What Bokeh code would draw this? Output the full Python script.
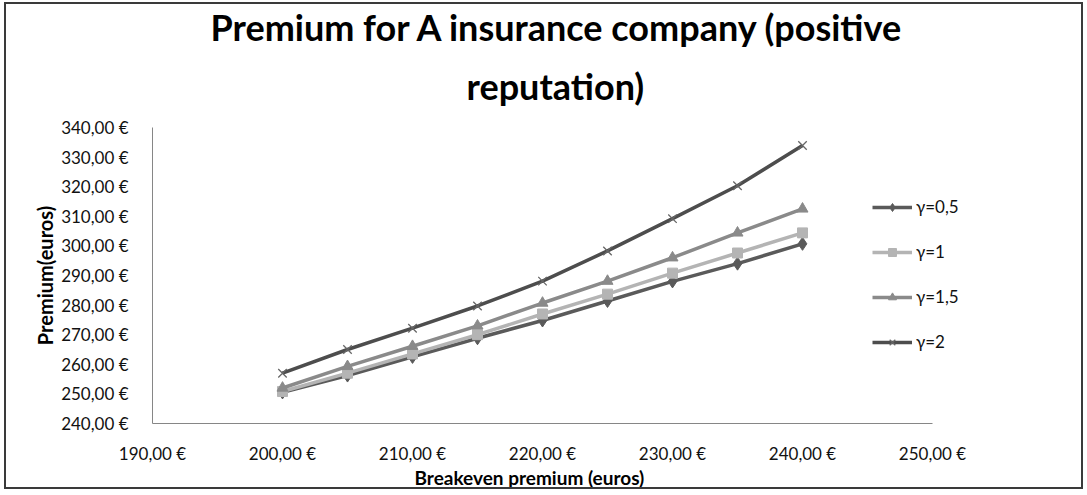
from bokeh.plotting import figure
from bokeh.models import Legend, LegendItem, Title, Range1d, FixedTicker
from bokeh.embed import file_html
from bokeh.resources import INLINE

# ---------------- data ----------------
breakeven = [200, 205, 210, 215, 220, 225, 230, 235, 240]
gamma_05 = [250.5, 256.2, 262.5, 268.8, 274.8, 281.4, 288.0, 294.0, 300.7]
gamma_1 = [250.8, 257.0, 263.5, 270.0, 277.0, 283.7, 290.8, 297.6, 304.4]
gamma_15 = [252.0, 259.3, 266.1, 273.0, 280.7, 288.1, 296.0, 304.4, 312.5]
gamma_2 = [257.0, 265.0, 272.2, 279.7, 288.1, 298.3, 309.2, 320.3, 333.9]

series_names = ["γ=0,5", "γ=1", "γ=1,5", "γ=2"]
x_ticks = [190, 200, 210, 220, 230, 240, 250]
x_tick_labels = ["190,00 €", "200,00 €", "210,00 €", "220,00 €", "230,00 €", "240,00 €", "250,00 €"]
y_ticks = [240, 250, 260, 270, 280, 290, 300, 310, 320, 330, 340]
y_tick_labels = ["240,00 €", "250,00 €", "260,00 €", "270,00 €", "280,00 €", "290,00 €",
                 "300,00 €", "310,00 €", "320,00 €", "330,00 €", "340,00 €"]

title_line1 = "Premium for A insurance company (positive"
title_line2 = "reputation)"
x_title = "Breakeven premium (euros)"
y_title = "Premium(euros)"

FONT = "Lato"

p = figure(width=1079, height=487, output_backend="svg", toolbar_location=None,
           x_range=Range1d(190, 256), y_range=Range1d(240, 340),
           min_border_left=146, min_border_right=75, min_border_top=123, min_border_bottom=68)
p.styles = {"border": "2px solid #3a3a3a", "margin": "2px 0 0 4px"}
p.outline_line_color = None
p.xgrid.visible = False
p.ygrid.visible = False
p.title = None

for ax in (p.xaxis[0], p.yaxis[0]):
    ax.axis_line_color = "#868686"
    ax.axis_line_width = 1
    ax.major_tick_in = 0
    ax.major_tick_out = 0
    ax.minor_tick_in = 0
    ax.minor_tick_out = 0
    ax.major_label_text_font = FONT
    ax.major_label_text_font_size = "17px"
    ax.major_label_text_color = "#111111"

p.xaxis.ticker = FixedTicker(ticks=x_ticks)
p.xaxis.bounds = (190, 250)
p.xaxis.major_label_overrides = dict(zip(x_ticks, x_tick_labels))
p.xaxis.major_label_standoff = 19
p.yaxis.ticker = FixedTicker(ticks=y_ticks)
p.yaxis.major_label_overrides = dict(zip(y_ticks, y_tick_labels))
p.yaxis.major_label_standoff = 24

styles = [
    (gamma_05, "#5a5a5a", "diamond", 13, "#5a5a5a"),
    (gamma_1, "#b4b4b4", "square", 10, "#b4b4b4"),
    (gamma_15, "#8a8a8a", "triangle", 11, "#8a8a8a"),
    (gamma_2, "#4d4d4d", "x", 12, "#666666"),
]

items = []
for name, (ys, col, marker, size, mcol) in zip(series_names, styles):
    ln = p.line(breakeven, ys, line_color=col, line_width=3.5)
    if marker == "x":
        mk = p.scatter(breakeven, ys, marker="x", size=size, line_color=mcol, line_width=1.3)
    else:
        mk = p.scatter(breakeven, ys, marker=marker, size=size, fill_color=mcol, line_color=mcol)
    items.append(LegendItem(label=name, renderers=[ln, mk]))

legend = Legend(items=items, location=(720, 71), padding=0, margin=0,
                spacing=24, glyph_width=40, glyph_height=20, label_standoff=4,
                label_text_font=FONT, label_text_font_size="17px", label_text_color="#111111",
                border_line_color=None, background_fill_alpha=0)
p.add_layout(legend, "center")

# titles (closest to frame first)
p.add_layout(Title(text=title_line2, align="left", offset=314, standoff=39,
                   text_font=FONT, text_font_style="bold", text_font_size="36px",
                   text_color="#000000"), "above")
p.add_layout(Title(text=title_line1, align="left", offset=58, standoff=-13,
                   text_font=FONT, text_font_style="bold", text_font_size="36px",
                   text_color="#000000"), "above")
p.add_layout(Title(text=x_title, align="left", offset=262, standoff=-5,
                   text_font=FONT, text_font_style="bold", text_font_size="19px",
                   text_color="#000000"), "below")
p.add_layout(Title(text=y_title, align="center", standoff=4,
                   text_font=FONT, text_font_style="bold", text_font_size="20px",
                   text_color="#000000"), "left")

open("out.html", "w").write(file_html(p, INLINE))
